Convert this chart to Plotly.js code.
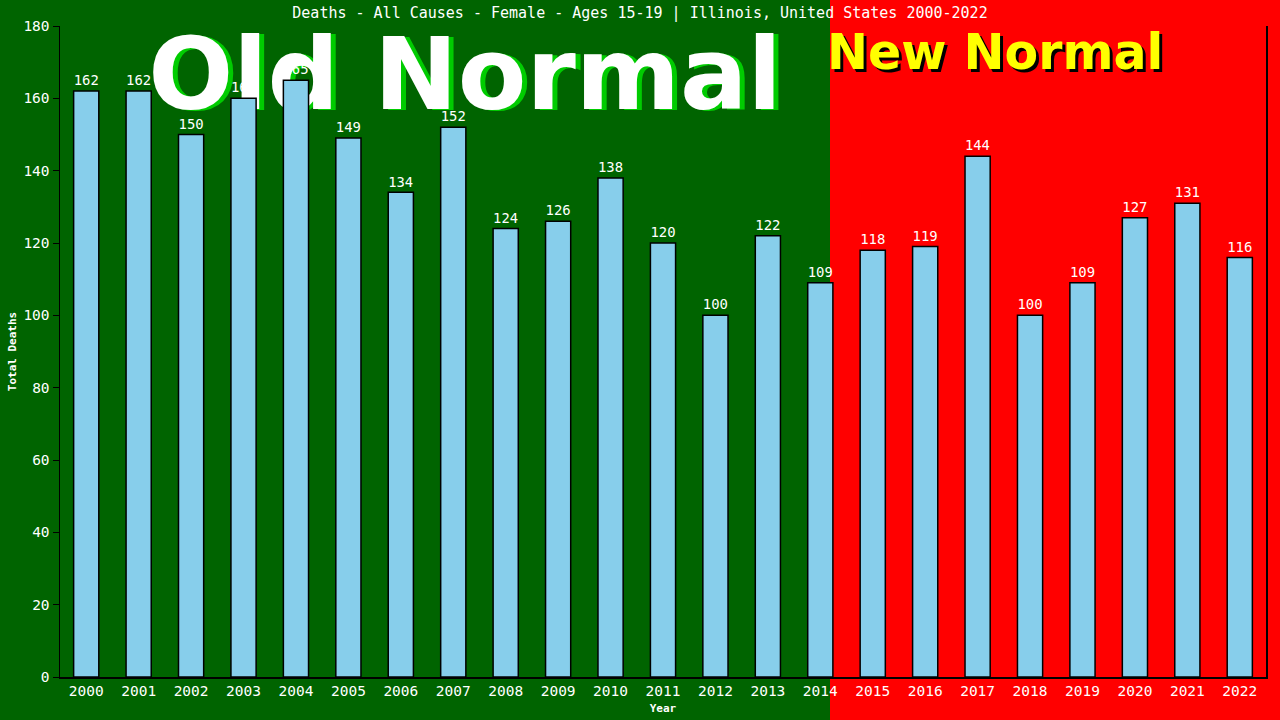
<!DOCTYPE html>
<html>
<head>
<meta charset="utf-8">
<script src="https://cdn.plot.ly/plotly-3.0.1.min.js"></script>
<style>html,body{margin:0;padding:0;background:#ff0000;}#chart{width:1280px;height:720px;}</style>
</head>
<body>
<div id="chart"></div>
<script>
const years = ["2000","2001","2002","2003","2004","2005","2006","2007","2008","2009","2010","2011","2012","2013","2014","2015","2016","2017","2018","2019","2020","2021","2022"];
const deaths = [162,162,150,160,165,149,134,152,124,126,138,120,100,122,109,118,119,144,100,109,127,131,116];
const yTicks = [0,20,40,60,80,100,120,140,160,180];
const titleText = "Deaths - All Causes - Female - Ages 15-19 | Illinois, United States 2000-2022";

const mono = "DejaVu Sans Mono, Liberation Mono, monospace";

const trace = {
  type: "bar",
  x: years,
  y: deaths,
  text: deaths.map(String),
  textposition: "outside",
  cliponaxis: false,
  textfont: {family: mono, size: 14.5, color: "#ffffff"},
  marker: {color: "#87ceeb", line: {color: "#000000", width: 1.5}},
  hoverinfo: "x+y"
};

const W = 1206, H = 651, L = 60, T = 26;
function px2x(p){ return (p - L) / W; }
function py2y(p){ return (T + H - p) / H; }

function bigLabel(cx, cy, dx, dy, color){
  return {
    type: "rect", xref: "paper", yref: "paper", layer: "below",
    x0: px2x(cx - 330 + dx), x1: px2x(cx + 330 + dx),
    y0: py2y(cy + 60 + dy), y1: py2y(cy - 60 + dy),
    line: {width: 0}, fillcolor: "rgba(0,0,0,0)",
    label: {text: "Old Normal", textposition: "middle center",
      font: {family: "DejaVu Sans", size: 100, weight: "bold", color: color}}
  };
}

const layout = {
  width: 1280, height: 720,
  margin: {l: L, r: 14, t: T, b: 43},
  paper_bgcolor: "#ff0000",
  plot_bgcolor: "rgba(0,0,0,0)",
  showlegend: false,
  bargap: 0.52,
  title: {text: titleText, x: 0.5, xref: "container", y: 0.982, yref: "container", yanchor: "middle",
    font: {family: mono, size: 15, color: "#ffffff"}},
  xaxis: {
    type: "category", showgrid: false, zeroline: false,
    showline: true, linecolor: "#000000", linewidth: 1.5,
    ticks: "", tickfont: {family: mono, size: 14.5, color: "#ffffff"},
    title: {text: "Year", standoff: 6, font: {family: mono, size: 11, weight: "bold", color: "#ffffff"}}
  },
  yaxis: {
    range: [0, 180], tickvals: yTicks, showgrid: false, zeroline: false,
    showline: true, linecolor: "#000000", linewidth: 1.5, mirror: true,
    ticks: "outside", ticklen: 6, tickcolor: "#000000",
    tickfont: {family: mono, size: 14.5, color: "#ffffff"},
    title: {text: "Total Deaths", standoff: 4, font: {family: mono, size: 11, weight: "bold", color: "#ffffff"}}
  },
  shapes: [
    {type: "rect", xref: "paper", yref: "paper", layer: "below",
     x0: -1, x1: px2x(830), y0: -1, y1: 2, line: {width: 0}, fillcolor: "#006400"},
    bigLabel(465, 67, 5, 1, "#00cc00"),
    bigLabel(465, 67, 0, 0, "#ffffff")
  ],
  annotations: [
    {text: "New Normal", xref: "paper", yref: "paper", x: px2x(995), y: py2y(52), xanchor: "center", yanchor: "middle",
     xshift: 3, yshift: -3, showarrow: false,
     font: {family: "DejaVu Sans", size: 49, weight: "bold", color: "#000000"}},
    {text: "New Normal", xref: "paper", yref: "paper", x: px2x(995), y: py2y(52), xanchor: "center", yanchor: "middle",
     showarrow: false,
     font: {family: "DejaVu Sans", size: 49, weight: "bold", color: "#ffff00"}}
  ]
};

Plotly.newPlot("chart", [trace], layout, {displayModeBar: false, staticPlot: true});
</script>
</body>
</html>
